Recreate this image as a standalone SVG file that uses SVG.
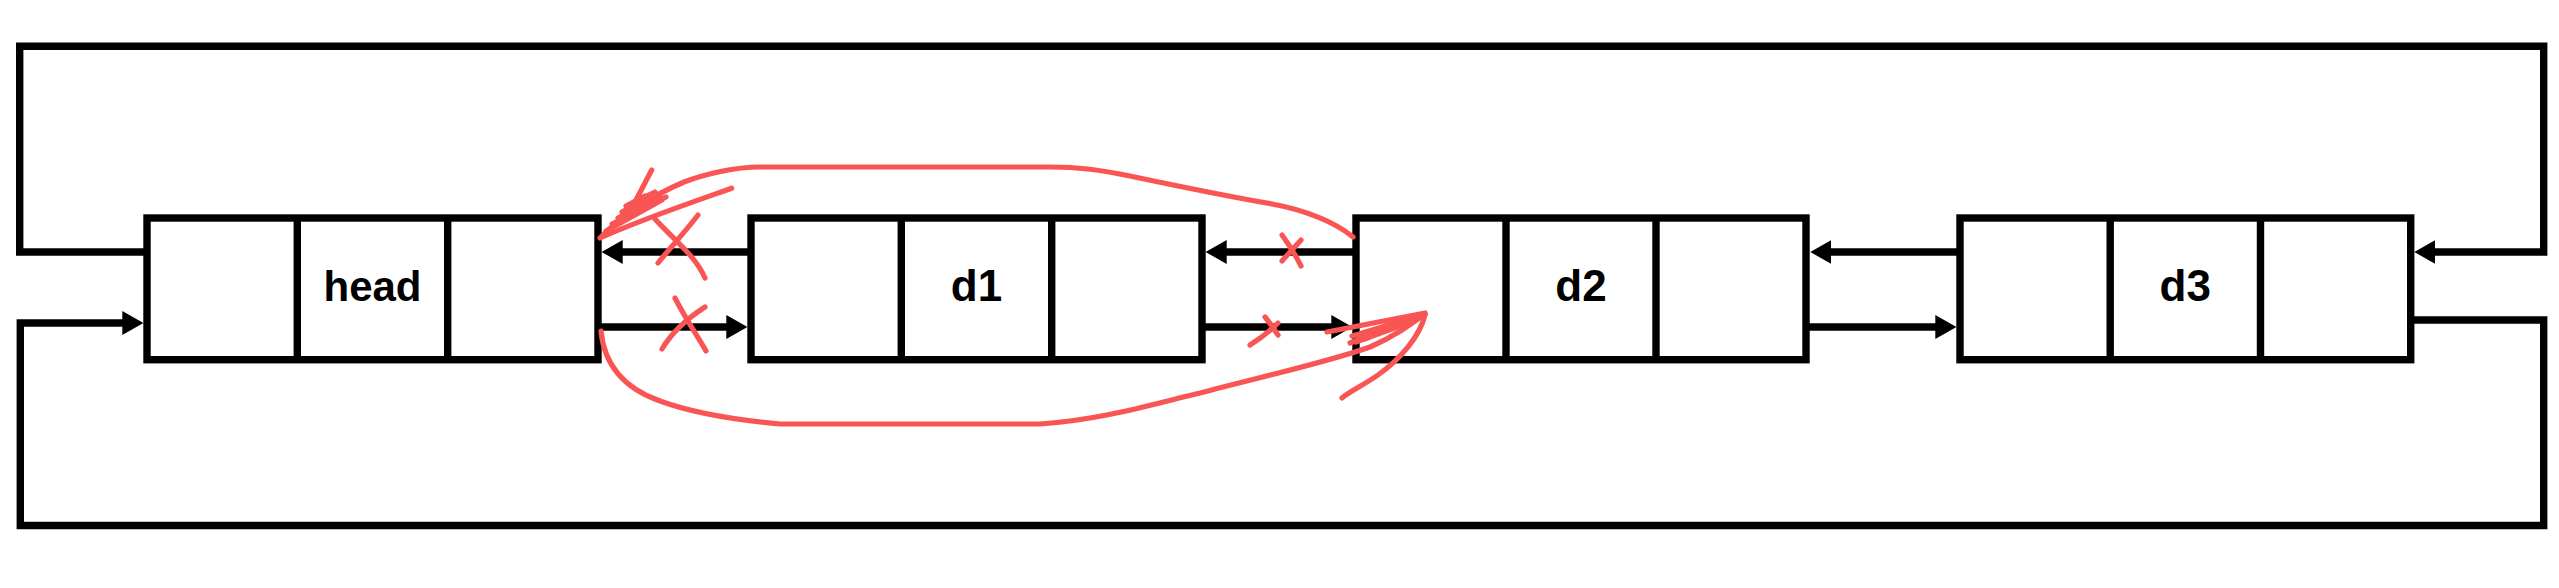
<svg xmlns="http://www.w3.org/2000/svg" width="2559" height="588" viewBox="0 0 2559 588">
<style>
.box{fill:#fff;stroke:#000;stroke-width:7.4}
.div{stroke:#000;stroke-width:7.4}
.con{fill:none;stroke:#000;stroke-width:7.4;stroke-linejoin:miter;stroke-linecap:butt}
.lbl{font-family:"Liberation Sans",Arial,sans-serif;font-weight:bold;font-size:44px;fill:#000;text-anchor:middle}
.hd{font-family:"Liberation Sans",Arial,sans-serif;font-weight:bold;font-size:42px;fill:#000;text-anchor:middle}
.red{fill:none;stroke:#fa5555;stroke-width:5.2;stroke-linecap:round;stroke-linejoin:round}
</style>
<defs>
<marker id="ah" markerUnits="userSpaceOnUse" viewBox="0 0 21 24" markerWidth="21" markerHeight="24" refX="2" refY="12" orient="auto">
<path d="M0,0 L21,12 L0,24 z" fill="#000"/>
</marker>
</defs>
<rect width="2559" height="588" fill="#fff"/>

<g id="connectors">
<path class="con" d="M147,252 H19.7 V46.3 H2543.7 V252 H2433.3" marker-end="url(#ah)"/>
<path class="con" d="M2410.7,320 H2543.7 V525.5 H20.3 V323 H124.3" marker-end="url(#ah)"/>
<path class="con" d="M751,252 H620.7" marker-end="url(#ah)"/>
<path class="con" d="M598,327 H728.3" marker-end="url(#ah)"/>
<path class="con" d="M1356,252 H1224.7" marker-end="url(#ah)"/>
<path class="con" d="M1202,327 H1333.3" marker-end="url(#ah)"/>
<path class="con" d="M1960,252 H1829.3" marker-end="url(#ah)"/>
<path class="con" d="M1806,327 H1937.3" marker-end="url(#ah)"/>
</g>

<g id="node-head">
<rect class="box" x="147" y="218" width="451" height="141.7"/>
<line class="div" x1="297.3" y1="218" x2="297.3" y2="359.7"/>
<line class="div" x1="447.7" y1="218" x2="447.7" y2="359.7"/>
<text class="hd" x="372.5" y="301">head</text>
</g>
<g id="node-d1">
<rect class="box" x="751" y="218" width="451" height="141.7"/>
<line class="div" x1="901.3" y1="218" x2="901.3" y2="359.7"/>
<line class="div" x1="1051.7" y1="218" x2="1051.7" y2="359.7"/>
<text class="lbl" x="976.5" y="301">d1</text>
</g>
<g id="node-d2">
<rect class="box" x="1356" y="218" width="450" height="141.7"/>
<line class="div" x1="1506" y1="218" x2="1506" y2="359.7"/>
<line class="div" x1="1656" y1="218" x2="1656" y2="359.7"/>
<text class="lbl" x="1581" y="301">d2</text>
</g>
<g id="node-d3">
<rect class="box" x="1960" y="218" width="450.7" height="141.7"/>
<line class="div" x1="2110.2" y1="218" x2="2110.2" y2="359.7"/>
<line class="div" x1="2260.5" y1="218" x2="2260.5" y2="359.7"/>
<text class="lbl" x="2185.3" y="301">d3</text>
</g>

<g id="annotations">
<path class="red" d="M1353,237 C1335,222 1305,210 1272,204 C1232,197 1182,187 1130,176 C1100,170 1080,167 1050,167 L760,167 C735,167 705,174 684,182 C656,194 628,210 601,237"/>
<path class="red" d="M651.7,170 L636,200 L625,216"/>
<path class="red" d="M731.7,188.3 C690,203 640,220 600,238"/>
<path class="red" d="M606,231 L662,200 M612,224 L666,197 M618,218 L660,196 M622,212 L650,196 M626,206 L645,196 M630,204 L655,192"/>
<path class="red" d="M601,331 C604,362 620,387 660,401 C690,412 725,419 780,424 L1040,424 C1100,420 1150,405 1200,393 C1260,377 1325,363 1370,347 C1395,336 1410,325 1425,314"/>
<path class="red" d="M1327,332 L1425,313 M1350,343 L1425,314 M1352,336 L1418,318 M1356,342 L1408,323 M1362,333 L1400,322 M1365,339 L1412,320 M1372,330 L1420,316"/>
<path class="red" d="M1425,315 C1420,335 1402,358 1378,375 C1362,386 1349,392 1342,398"/>
<path class="red" d="M698,215 C685,232 670,248 658,263 M655,219 C672,238 695,255 705,278"/>
<path class="red" d="M675,298 C685,318 697,335 706,351 M705,307 C688,318 672,332 662,349"/>
<path class="red" d="M1282,235 C1290,246 1296,256 1301,266 M1301,240 C1294,248 1287,255 1282,261"/>
<path class="red" d="M1265,317 C1270,323 1274,329 1278,335 M1278,323 C1268,333 1258,340 1250,345"/>
</g>
</svg>
